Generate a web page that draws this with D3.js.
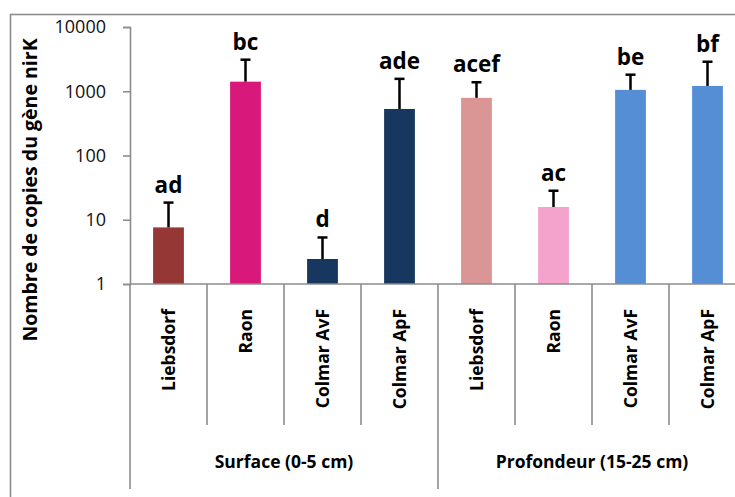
<!DOCTYPE html>
<html>
<head>
<meta charset="utf-8">
<script src="https://cdn.jsdelivr.net/npm/d3@7"></script>
<style>
body{margin:0;background:#fff;}
svg{display:block;}
</style>
</head>
<body>
<svg id="chart"></svg>
<script>
// categories and values
var sites=["Liebsdorf","Raon","Colmar AvF","Colmar ApF","Liebsdorf","Raon","Colmar AvF","Colmar ApF"]
var groups=["Surface (0-5 cm)","Profondeur (15-25 cm)"]
var means=[7.6,1410,2.45,530,790,15.8,1050,1210]
var errTop=[18.5,3100,5.3,1560,1380,28.3,1810,2880]
var letters=["ad","bc","d","ade","acef","ac","be","bf"]
var colors=["#953735","#d9187b","#17375e","#17375e","#d99694","#f4a3cd","#558ed5","#558ed5"]
var yTicks=[1,10,100,1000,10000]

var screen={width:735,height:497}
var plot={left:130,right:746,top:27,bottom:284}
var gray="#8c8c8c"

var svg=d3.select("#chart")
  .attr("width",screen.width)
  .attr("height",screen.height)

// outer frame
svg.append("rect")
  .attr("x",10.5).attr("y",14.5)
  .attr("width",760).attr("height",520)
  .style("fill","none").style("stroke",gray).style("stroke-width",1.6)

var x=d3.scaleBand().domain(d3.range(sites.length))
  .range([plot.left,plot.right]).paddingInner(0.6).paddingOuter(0.3)
var xCat=d3.scaleBand().domain(d3.range(sites.length)).range([plot.left,plot.right])
var y=d3.scaleLog().domain([1,10000]).range([plot.bottom,plot.top])

// bars
svg.selectAll(".bar").data(means).enter()
  .append("rect").attr("class","bar")
  .attr("x",function(d,i){return x(i)})
  .attr("width",x.bandwidth())
  .attr("y",function(d){return y(d)})
  .attr("height",function(d){return plot.bottom-y(d)})
  .style("fill",function(d,i){return colors[i]})

// error bars
var cx=function(i){return x(i)+x.bandwidth()/2}
svg.selectAll(".err").data(errTop).enter()
  .append("line").attr("class","err")
  .attr("x1",function(d,i){return cx(i)}).attr("x2",function(d,i){return cx(i)})
  .attr("y1",function(d,i){return y(means[i])}).attr("y2",function(d){return y(d)})
  .style("stroke","#000").style("stroke-width",2.5)
svg.selectAll(".cap").data(errTop).enter()
  .append("line").attr("class","cap")
  .attr("x1",function(d,i){return cx(i)-5}).attr("x2",function(d,i){return cx(i)+5})
  .attr("y1",function(d){return y(d)}).attr("y2",function(d){return y(d)})
  .style("stroke","#000").style("stroke-width",2.5)

// letters
svg.selectAll(".lett").data(letters).enter()
  .append("text").attr("class","lett")
  .attr("x",function(d,i){return cx(i)})
  .attr("y",function(d,i){return y(errTop[i])-10})
  .attr("text-anchor","middle")
  .style("font-family","'Open Sans',sans-serif").style("font-weight","bold")
  .style("font-size","22.5px").style("fill","#000")
  .text(function(d){return d})

// y axis
var yAxis=d3.axisLeft(y).tickValues(yTicks).tickFormat(d3.format("d")).tickSizeOuter(0).tickSize(7).tickPadding(17)
var gy=svg.append("g").attr("transform","translate("+plot.left+",0)").call(yAxis)
gy.select(".domain").style("stroke",gray).style("stroke-width",1.6)
gy.selectAll(".tick line").style("stroke",gray).style("stroke-width",1.6)
gy.selectAll(".tick text")
  .style("font-family","'Open Sans',sans-serif").style("font-size","18px").style("fill","#111")

// x axis baseline
svg.append("line")
  .attr("x1",plot.left).attr("x2",plot.right)
  .attr("y1",plot.bottom).attr("y2",plot.bottom)
  .style("stroke",gray).style("stroke-width",1.6)

// category dividers
var bounds=d3.range(sites.length+1)
svg.selectAll(".div").data(bounds).enter()
  .append("line").attr("class","div")
  .attr("x1",function(d){return plot.left+d*xCat.step()})
  .attr("x2",function(d){return plot.left+d*xCat.step()})
  .attr("y1",plot.bottom)
  .attr("y2",function(d){return d%4==0?489:425})
  .style("stroke",gray).style("stroke-width",1.6)

// category labels
svg.selectAll(".cat").data(sites).enter()
  .append("text").attr("class","cat")
  .attr("transform",function(d,i){
    return "translate("+(xCat(i)+xCat.bandwidth()/2+6)+",309) rotate(-90)"})
  .attr("text-anchor","end")
  .style("font-family","'Open Sans',sans-serif").style("font-weight","bold")
  .style("font-size","17.5px").style("fill","#000")
  .text(function(d){return d})

// group labels
svg.selectAll(".grp").data(groups).enter()
  .append("text").attr("class","grp")
  .attr("x",function(d,i){return plot.left+(i*4+2)*xCat.step()})
  .attr("y",468)
  .attr("text-anchor","middle")
  .style("font-family","'Open Sans',sans-serif").style("font-weight","bold")
  .style("font-size","17.5px").style("fill","#000")
  .text(function(d){return d})

// y title
svg.append("text")
  .attr("transform","translate(37,190) rotate(-90)")
  .attr("text-anchor","middle")
  .style("font-family","'Open Sans',sans-serif").style("font-weight","bold")
  .style("font-size","19.5px").style("fill","#000")
  .text("Nombre de copies du gène nirK")
</script>
</body>
</html>
